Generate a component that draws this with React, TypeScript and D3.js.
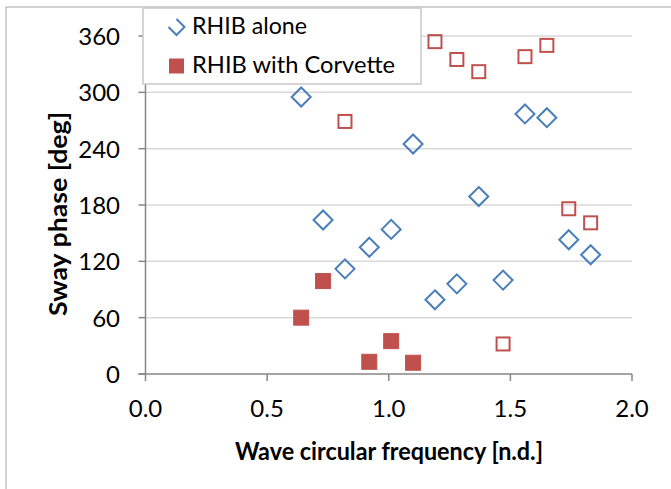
import React from "react";
import * as d3 from "d3";

const xTicks = [0, 0.5, 1.0, 1.5, 2.0];
const yTicks = [0, 60, 120, 180, 240, 300, 360];

const aloneX = [0.64, 0.73, 0.82, 0.92, 1.01, 1.10, 1.19, 1.28, 1.37, 1.47, 1.56, 1.65, 1.74, 1.83];
const aloneY = [295, 164, 112, 135, 154, 245, 79, 96, 189, 100, 277, 273, 143, 127];

const corvetteFilledX = [0.64, 0.73, 0.92, 1.01, 1.10];
const corvetteFilledY = [60, 99, 13, 35, 12];

const corvetteOpenX = [0.82, 1.19, 1.28, 1.37, 1.47, 1.56, 1.65, 1.74, 1.83];
const corvetteOpenY = [269, 354, 335, 322, 32, 338, 350, 176, 161];

const W = 671;
const H = 489;
const FONT = "Lato, 'Open Sans', sans-serif";
const BLUE = "#4a7ebb";
const RED = "#c0504d";
const AXIS = "#868686";
const GRID = "#d9d9d9";

export default function App() {
  const x = d3.scaleLinear().domain([0, 2]).range([145.5, 632]);
  const y = d3.scaleLinear().domain([0, 360]).range([374, 36]);
  const diamond = (cx: number, cy: number, r: number) =>
    `M${cx},${cy - r}L${cx + r},${cy}L${cx},${cy + r}L${cx - r},${cy}Z`;

  return (
    <svg width={W} height={H} style={{ position: "absolute", left: 0, top: 0, background: "#fff" }}>
      <rect x={6} y={7} width={W} height={H} fill="#fff" stroke="#a6a6a6" strokeWidth={1} />
      {/* gridlines */}
      {yTicks.filter((t) => t > 0).map((t) => (
        <line key={"g" + t} x1={x(0)} x2={x(2)} y1={y(t)} y2={y(t)} stroke={GRID} strokeWidth={1.5} />
      ))}
      {/* axes */}
      <line x1={x(0)} x2={x(0)} y1={y(0)} y2={y(360)} stroke={AXIS} strokeWidth={1.5} />
      <line x1={x(0) - 7} x2={x(2)} y1={y(0)} y2={y(0)} stroke={AXIS} strokeWidth={1.5} />
      {yTicks.map((t) => (
        <g key={"y" + t}>
          <line x1={x(0) - 7} x2={x(0)} y1={y(t)} y2={y(t)} stroke={AXIS} strokeWidth={1.5} />
          <text x={120} y={y(t) + 9} textAnchor="end" fontFamily={FONT} fontSize={24} fill="#000">
            {t}
          </text>
        </g>
      ))}
      {xTicks.map((t) => (
        <g key={"x" + t}>
          <line x1={x(t)} x2={x(t)} y1={y(0)} y2={y(0) + 7} stroke={AXIS} strokeWidth={1.5} />
          <text x={x(t)} y={417} textAnchor="middle" fontFamily={FONT} fontSize={24} fill="#000">
            {d3.format(".1f")(t)}
          </text>
        </g>
      ))}
      {/* axis titles */}
      <text
        x={389}
        y={460}
        textAnchor="middle"
        fontFamily={FONT}
        fontSize={24}
        fontWeight="bold"
        fill="#000"
        textLength={308}
        lengthAdjust="spacingAndGlyphs"
      >
        Wave circular frequency [n.d.]
      </text>
      <text
        transform={`translate(67,214) rotate(-90)`}
        textAnchor="middle"
        fontFamily={FONT}
        fontSize={24}
        fontWeight="bold"
        fill="#000"
        textLength={204}
        lengthAdjust="spacingAndGlyphs"
      >
        Sway phase [deg]
      </text>
      {/* data */}
      {aloneX.map((v, i) => (
        <path key={"a" + i} d={diamond(x(v), y(aloneY[i]), 9.5)} fill="none" stroke={BLUE} strokeWidth={2} />
      ))}
      {corvetteOpenX.map((v, i) => (
        <rect key={"o" + i} x={x(v) - 6.5} y={y(corvetteOpenY[i]) - 6.5} width={13} height={13} fill="none" stroke={RED} strokeWidth={2} />
      ))}
      {corvetteFilledX.map((v, i) => (
        <rect key={"f" + i} x={x(v) - 7.5} y={y(corvetteFilledY[i]) - 7.5} width={15} height={15} fill={RED} stroke={RED} strokeWidth={1} />
      ))}
      {/* legend */}
      <rect x={143} y={8} width={278} height={76} fill="#fff" stroke="#c8c8c8" strokeWidth={1.5} />
      <path d="M176.5,19L184.5,27L176.5,35L168.5,27" fill="none" stroke={BLUE} strokeWidth={2} />
      <text x={192} y={34} fontFamily={FONT} fontSize={22.5} fill="#000" textLength={115} lengthAdjust="spacingAndGlyphs">
        RHIB alone
      </text>
      <rect x={169} y={58.5} width={15} height={15} fill={RED} />
      <text x={192} y={73} fontFamily={FONT} fontSize={22.5} fill="#000" textLength={203} lengthAdjust="spacingAndGlyphs">
        RHIB with Corvette
      </text>
    </svg>
  );
}
